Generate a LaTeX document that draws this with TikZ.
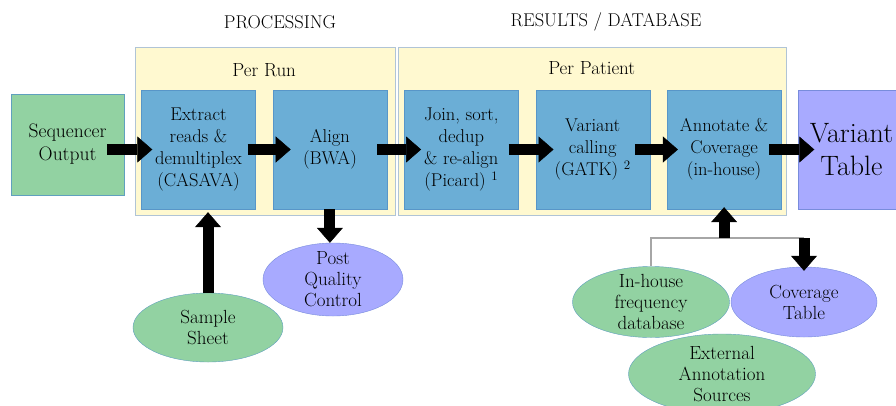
\documentclass[tikz,border=0pt]{standalone}
\usepackage{xcolor}
\usepackage{tikz}
\usetikzlibrary{shapes,arrows.meta,positioning,calc,backgrounds}

\definecolor{runyellow}{RGB}{255,249,208}
\definecolor{runline}{RGB}{176,196,214}
\definecolor{procblue}{RGB}{107,174,214}
\definecolor{procline}{RGB}{88,150,200}
\definecolor{sourcegreen}{RGB}{146,210,162}
\definecolor{sourceline}{RGB}{96,160,190}
\definecolor{resultpurple}{RGB}{168,170,255}
\definecolor{resultline}{RGB}{120,140,220}

\begin{document}
\begin{tikzpicture}[x=1pt, y=-1pt, node distance=17pt,
    proc/.style={draw=procline, fill=procblue, minimum width=114pt, minimum height=119pt,
      inner sep=0pt, align=center, font=\fontsize{18.5}{22}\selectfont},
    area/.style={draw=runline, fill=runyellow, line width=0.8pt},
    oval/.style={ellipse, draw=sourceline, inner xsep=0pt, inner ysep=-14pt,
      align=center, font=\fontsize{19}{21}\selectfont},
    bigarrow/.style={line width=11pt, -{Triangle[width=26pt, length=15pt, line width=0.5pt]}}]
    \useasboundingbox (0,0) rectangle (896,405);
    \clip (0,0) rectangle (896,405);

    % headings
    \node[font=\fontsize{18.5}{22}\selectfont] (processing) at (280,22) {PROCESSING};
    \node[font=\fontsize{18.5}{22}\selectfont] (results) at (606,22) {RESULTS / DATABASE};

    % pipeline steps
    \node[proc] (extract) at (198.5,149.5) {Extract\\reads \&\\demultiplex\\(CASAVA)};
    \node[proc, right=of extract] (align) {Align\\(BWA)};
    \node[proc, right=of align] (join) {Join, sort,\\dedup\\\& re-align\\(Picard)~\textsuperscript{1}};
    \node[proc, right=of join] (calling) {Variant\\calling\\(GATK)~\textsuperscript{2}};
    \node[proc, right=of calling] (annotate) {Annotate \&\\Coverage\\(in-house)};
    \node[proc, right=of annotate, draw=resultline, fill=resultpurple, minimum width=106pt,
      font=\fontsize{28}{33}\selectfont] (vartable) {Variant\\Table};
    \node[proc, left=of extract, yshift=5pt, draw=sourceline, fill=sourcegreen,
      minimum width=113pt, minimum height=101pt, font=\fontsize{19.5}{23}\selectfont] (seqout) {Sequencer\\Output};

    % per run / per patient
    \begin{scope}[on background layer]
      \fill[white] (0,0) rectangle (896,405);
      \draw[area] ($(extract.north west)+(-6,-42)$) rectangle ($(align.south east)+(8,6)$);
      \draw[area] ($(join.north west)+(-6,-42)$) rectangle ($(annotate.south east)+(5,6)$);
    \end{scope}
    \node[font=\fontsize{19}{22}\selectfont] (perrun) at ($(extract.north)!0.5!(align.north)+(0,-20)$) {Per Run};
    \node[font=\fontsize{19}{22}\selectfont] (perpatient) at ($(calling.north)+(-1,-22)$) {Per Patient};

    % inputs and outputs
    \node[oval, fill=sourcegreen, minimum width=150pt, minimum height=69pt] (sheet) at (208,327.5) {Sample\\Sheet};
    \node[oval, draw=resultline, fill=resultpurple, minimum width=140pt, minimum height=73pt] (postqc) at (333,279.5) {Post\\Quality\\Control};
    \node[oval, fill=sourcegreen, minimum width=157pt, minimum height=71pt] (inhouse) at (651,302) {In-house\\frequency\\database};
    \node[oval, draw=resultline, fill=resultpurple, minimum width=146pt, minimum height=70pt] (coverage) at (804,302) {Coverage\\Table};
    \node[oval, fill=sourcegreen, minimum width=187pt, minimum height=80pt] (external) at (722,374) {External\\Annotation\\Sources};

    % flow
    \draw[bigarrow, shorten <=-17pt, shorten >=-11pt] (seqout.east |- extract) -- (extract);
    \draw[bigarrow, shorten <=-8pt, shorten >=-18pt] (extract) -- (align);
    \draw[bigarrow, shorten <=-10pt, shorten >=-17pt] (align) -- (join);
    \draw[bigarrow, shorten <=-10pt, shorten >=-18pt] (join) -- (calling);
    \draw[bigarrow, shorten <=-15pt, shorten >=-11pt] (calling) -- (annotate);
    \draw[bigarrow, shorten <=-12pt, shorten >=-16pt] (annotate) -- (vartable);
    \draw[bigarrow, shorten >=3pt] (sheet.north) -- (sheet.north |- extract.south);
    \draw[bigarrow] (align.south) -- (align.south |- postqc.north);
    \coordinate (hub) at ($(annotate.south)+(0,29)$);
    \draw[gray!70, line width=1.5pt] (inhouse.north) |- (hub -| coverage.north);
    \draw[bigarrow, shorten >=-2pt] (hub) -- (annotate.south);
    \draw[bigarrow, shorten >=-4pt] (hub -| coverage.north) -- (coverage.north);
\end{tikzpicture}
\end{document}
